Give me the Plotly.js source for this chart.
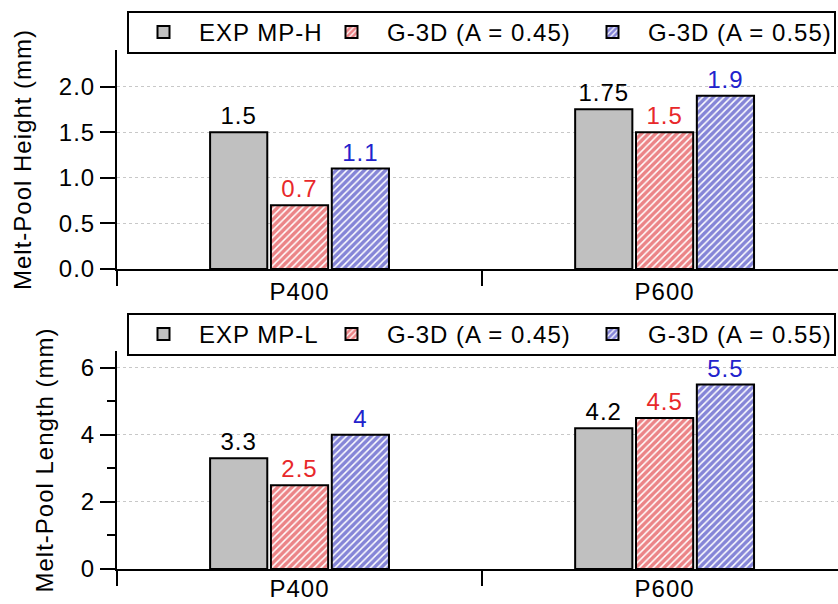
<!DOCTYPE html>
<html>
<head>
<meta charset="utf-8">
<script src="https://cdn.plot.ly/plotly-3.0.1.min.js"></script>
<style>
html,body{margin:0;padding:0;background:#fff;}
#chart{width:838px;height:604px;}
svg text{letter-spacing:1px;}
</style>
</head>
<body>
<div id="chart"></div>
<script>
// ---- data ----
const categories = ['P400', 'P600'];
const heightNames = ['EXP MP-H', 'G-3D (A = 0.45)', 'G-3D (A = 0.55)'];
const lengthNames = ['EXP MP-L', 'G-3D (A = 0.45)', 'G-3D (A = 0.55)'];
const heightExp = [1.5, 1.75];
const heightA045 = [0.7, 1.5];
const heightA055 = [1.1, 1.9];
const lengthExp = [3.3, 4.2];
const lengthA045 = [2.5, 4.5];
const lengthA055 = [4, 5.5];

// ---- styling ----
const FONT = 'Liberation Sans, Arial, sans-serif';
const FS = 24;
const GRAY = '#c0c0c0', RED = '#d80a10', BLUE = '#0c0cb0';
const RED_TXT = '#e8282a', BLUE_TXT = '#2222cc';

function mkBar(name, x, y, xa, ya, leg, kind) {
  const t = {
    type: 'bar', name: name, x: x, y: y, xaxis: xa, yaxis: ya, legend: leg,
    text: y.map(v => String(v)), texttemplate: '%{text}',
    textposition: 'outside', cliponaxis: false,
    constraintext: 'none', hoverinfo: 'none',
    textfont: {family: FONT, size: 24, color: 'black'},
    marker: {line: {color: 'black', width: 2}}
  };
  if (kind === 0) {
    t.marker.color = GRAY;
  } else {
    const c = kind === 1 ? RED : BLUE;
    t.marker.color = 'white';
    t.marker.pattern = {shape: '/', fgcolor: c, bgcolor: 'white', size: 5, solidity: 0.7, fillmode: 'overlay'};
    t.textfont.color = kind === 1 ? RED_TXT : BLUE_TXT;
  }
  return t;
}

const data = [
  mkBar(heightNames[0], categories, heightExp, 'x', 'y', 'legend', 0),
  mkBar(heightNames[1], categories, heightA045, 'x', 'y', 'legend2', 1),
  mkBar(heightNames[2], categories, heightA055, 'x', 'y', 'legend3', 2),
  mkBar(lengthNames[0], categories, lengthExp, 'x2', 'y2', 'legend4', 0),
  mkBar(lengthNames[1], categories, lengthA045, 'x2', 'y2', 'legend5', 1),
  mkBar(lengthNames[2], categories, lengthA055, 'x2', 'y2', 'legend6', 2)
];

// geometry helpers (pixel -> paper)
const ML = 117, MT = 50, MB = 35, W = 838, H = 604;
const PW = W - ML, PH = H - MT - MB;
const px = v => (v - ML) / PW;
const py = v => (H - MB - v) / PH;

const xBase = {
  type: 'category', range: [-0.5, 1.475], tickson: 'boundaries',
  ticks: 'outside', ticklen: 15, tickwidth: 2, tickcolor: 'black',
  showline: true, linewidth: 2, linecolor: 'black', showgrid: false,
  tickfont: {family: FONT, size: FS, color: 'black'}, fixedrange: true
};
const yBase = {
  ticks: 'outside', ticklen: 15, tickwidth: 2, tickcolor: 'black',
  showline: true, linewidth: 2, linecolor: 'black',
  showgrid: true, gridcolor: '#c8c8c8', gridwidth: 1, griddash: 'dot',
  zeroline: false, tickfont: {family: FONT, size: FS, color: 'black'}, fixedrange: true
};

function legendAt(xPix, yPix) {
  return {
    x: px(xPix), xanchor: 'left', y: py(yPix), yanchor: 'middle',
    orientation: 'h', bgcolor: 'rgba(0,0,0,0)', borderwidth: 0,
    itemwidth: 61, font: {family: FONT, size: FS, color: 'black'}
  };
}

const layout = {
  width: W, height: H,
  margin: {l: ML, r: 0, t: MT, b: MB},
  paper_bgcolor: 'white', plot_bgcolor: 'white',
  font: {family: FONT, color: 'black'},
  barmode: 'group', bargap: 0.5, bargroupgap: 0.06,
  xaxis: Object.assign({}, xBase, {anchor: 'y', domain: [0, 1]}),
  xaxis2: Object.assign({}, xBase, {anchor: 'y2', domain: [0, 1], ticklabelstandoff: -3}),
  yaxis: Object.assign({}, yBase, {
    anchor: 'x', domain: [py(269), 1], range: [0, 2.4], dtick: 0.5, tick0: 0, tickformat: '.1f',
    title: {text: 'Melt-Pool Height (mm)', font: {family: FONT, size: FS, color: 'black'}, standoff: 20}
  }),
  yaxis2: Object.assign({}, yBase, {
    anchor: 'x2', domain: [0, py(351)], range: [0, 6.5], dtick: 2, tick0: 0,
    minor: {dtick: 1, ticks: 'outside', ticklen: 8, tickwidth: 2, tickcolor: 'black', showgrid: false},
    title: {text: 'Melt-Pool Length (mm)', font: {family: FONT, size: FS, color: 'black'}, standoff: 20}
  }),
  legend: legendAt(128, 32.5),
  legend2: legendAt(316, 32.5),
  legend3: legendAt(577, 32.5),
  legend4: legendAt(128, 334.5),
  legend5: legendAt(316, 334.5),
  legend6: legendAt(577, 334.5),
  shapes: [
    {type: 'rect', xref: 'paper', yref: 'paper', x0: px(128), x1: px(835), y0: py(53), y1: py(12),
     fillcolor: 'white', line: {color: 'black', width: 2}, layer: 'above'},
    {type: 'rect', xref: 'paper', yref: 'paper', x0: px(128), x1: px(835), y0: py(355), y1: py(314),
     fillcolor: 'white', line: {color: 'black', width: 2}, layer: 'above'}
  ],
  showlegend: true
};

Plotly.newPlot('chart', data, layout, {staticPlot: true, displayModeBar: false});
</script>
</body>
</html>
